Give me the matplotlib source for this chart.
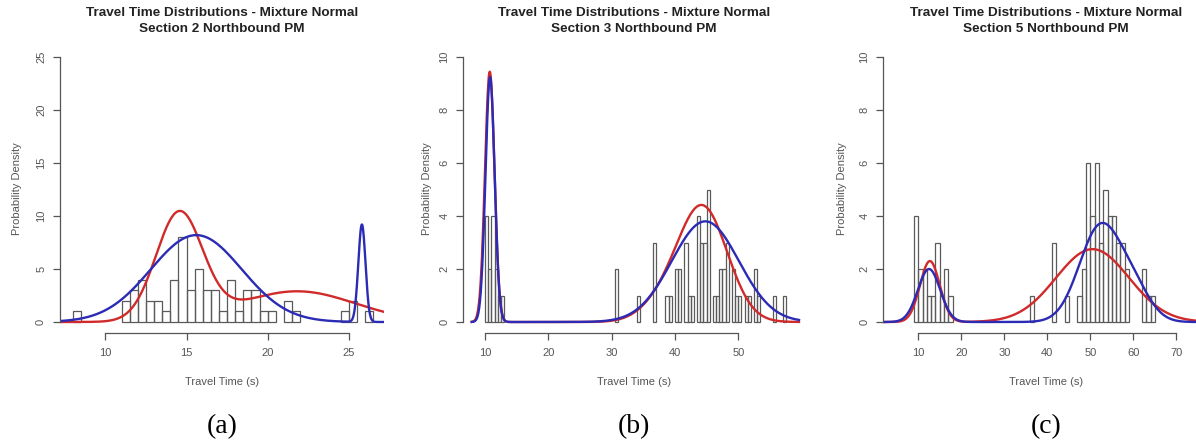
import numpy as np
import matplotlib.pyplot as plt

plt.rcParams['font.family'] = ['Liberation Sans', 'DejaVu Sans']

W, H = 1196, 445

# histogram bars: left edge of each bin and count
a_left = [8.0, 11.0, 11.5, 12.0, 12.5, 13.0, 13.5, 14.0, 14.5, 15.0, 15.5, 16.0, 16.5,
          17.0, 17.5, 18.0, 18.5, 19.0, 19.5, 20.0, 21.0, 21.5, 24.5, 25.0, 26.0]
a_count = [1, 2, 3, 4, 2, 2, 1, 4, 8, 3, 5, 3, 3, 1, 4, 1, 3, 3, 1, 1, 2, 1, 1, 2, 1]
a_width = 0.5

b_left = [10.0, 10.5, 11.0, 11.5, 12.0, 12.5, 30.5, 34.0, 36.5, 38.5, 39.0, 40.0, 40.5,
          41.5, 42.0, 42.5, 43.5, 44.0, 44.5, 45.0, 46.0, 46.5, 47.0, 47.5, 48.0, 49.0,
          49.5, 50.0, 51.0, 51.5, 52.5, 53.0, 55.5, 57.0]
b_count = [4, 2, 4, 2, 1, 1, 2, 1, 3, 1, 1, 2, 2, 3, 1, 1, 4, 3, 3, 5, 1, 1, 2, 2, 3, 2,
           1, 1, 1, 1, 2, 1, 1, 1]
b_width = 0.5

c_left = [9, 10, 11, 12, 13, 14, 15, 16, 17, 36, 41, 44, 47, 48, 49, 50, 51, 52, 53, 54,
          55, 56, 57, 58, 62, 63, 64]
c_count = [4, 2, 2, 1, 1, 3, 1, 2, 1, 1, 3, 1, 1, 2, 6, 4, 6, 3, 5, 4, 4, 3, 3, 2, 2, 1, 1]
c_width = 1.0

# fitted mixture components (mean, sd, peak height as drawn)
a_red = dict(mean=[14.55, 21.8], sd=[1.43, 3.6], peak=[10.1, 2.9])
a_blue = dict(mean=[15.6, 25.8], sd=[2.8, 0.22], peak=[8.2, 9.2])
b_red = dict(mean=[10.75, 38.0, 44.4], sd=[0.75, 3.5, 3.9], peak=[9.45, 0.6, 4.3])
b_blue = dict(mean=[10.8, 44.8], sd=[0.72, 5.3], peak=[9.25, 3.8])
c_red = dict(mean=[12.7, 50.5], sd=[2.3, 8.5], peak=[2.3, 2.75])
c_blue = dict(mean=[12.5, 52.2, 60.0], sd=[2.6, 4.8, 4.0], peak=[2.0, 3.55, 1.1])

titles = ["Travel Time Distributions - Mixture Normal\nSection 2 Northbound PM",
          "Travel Time Distributions - Mixture Normal\nSection 3 Northbound PM",
          "Travel Time Distributions - Mixture Normal\nSection 5 Northbound PM"]
letters = ["(a)", "(b)", "(c)"]
xticks = [[10, 15, 20, 25], [10, 20, 30, 40, 50], [10, 20, 30, 40, 50, 60, 70]]
yticks = [[0, 5, 10, 15, 20, 25], [0, 2, 4, 6, 8, 10], [0, 2, 4, 6, 8, 10]]

# layout in pixels
ax_left = [60, 463.3, 883.3]
centers = [222, 634, 1046]
xlims = [(7.21, 27.16), (6.57, 60.5), (1.87, 77.5)]
ylims = [(-1.0, 26.0), (-0.4, 10.4), (-0.4, 10.4)]
curve_x = [(7.2, 27.3), (7.9, 59.6), (1.9, 77.0)]
ylab_x = [17, 427, 842]
ax_top, ax_bot = 46.5, 332.6

fig = plt.figure(figsize=(W / 100, H / 100), dpi=100)

panels = [(a_left, a_count, a_width, a_red, a_blue),
          (b_left, b_count, b_width, b_red, b_blue),
          (c_left, c_count, c_width, c_red, c_blue)]

def mix(x, comp):
    y = np.zeros_like(x)
    for m, s, p in zip(comp['mean'], comp['sd'], comp['peak']):
        y += p * np.exp(-0.5 * ((x - m) / s) ** 2)
    return y

grey = '#555555'
for i, (left, count, width, red, blue) in enumerate(panels):
    wpx = 2 * (centers[i] - ax_left[i])
    ax = fig.add_axes([ax_left[i] / W, 1 - ax_bot / H, wpx / W, (ax_bot - ax_top) / H])
    ax.bar(left, count, width=width, align='edge', fill=False, edgecolor='#5a5a5a', linewidth=0.9)
    xs = np.linspace(curve_x[i][0], curve_x[i][1], 800)
    ax.plot(xs, mix(xs, red), color='#d02a2a', lw=1.7)
    ax.plot(xs, mix(xs, blue), color='#2b2bb5', lw=1.7)
    ax.set_xlim(*xlims[i])
    ax.set_ylim(*ylims[i])
    ax.set_xticks(xticks[i])
    ax.set_yticks(yticks[i])
    for sp in ['top', 'right']:
        ax.spines[sp].set_visible(False)
    ax.spines['left'].set_bounds(yticks[i][0], yticks[i][-1])
    ax.spines['bottom'].set_bounds(xticks[i][0], xticks[i][-1])
    for sp in ['left', 'bottom']:
        ax.spines[sp].set_color(grey)
        ax.spines[sp].set_linewidth(0.9)
    ax.tick_params(direction='out', length=5, width=0.9, color=grey, labelcolor=grey, labelsize=8)
    ax.tick_params(axis='x', pad=6)
    ax.tick_params(axis='y', pad=5)
    for lab in ax.get_yticklabels():
        lab.set_rotation(90)
        lab.set_va('center')
    fig.text(centers[i] / W, 1 - 21 / H, titles[i], ha='center', va='center',
             fontsize=9.7, fontweight='bold', color='#222222', linespacing=1.37)
    fig.text(ylab_x[i] / W, 1 - 189 / H, "Probability Density", rotation=90,
             ha='center', va='center', fontsize=8, color=grey)
    fig.text(centers[i] / W, 1 - 382 / H, "Travel Time (s)", ha='center', va='center',
             fontsize=8, color=grey)
    fig.text(centers[i] / W, 1 - 427 / H, letters[i], ha='center', va='center',
             fontsize=20, family='Liberation Serif', color='black')

fig.savefig('out.png', dpi=100)
